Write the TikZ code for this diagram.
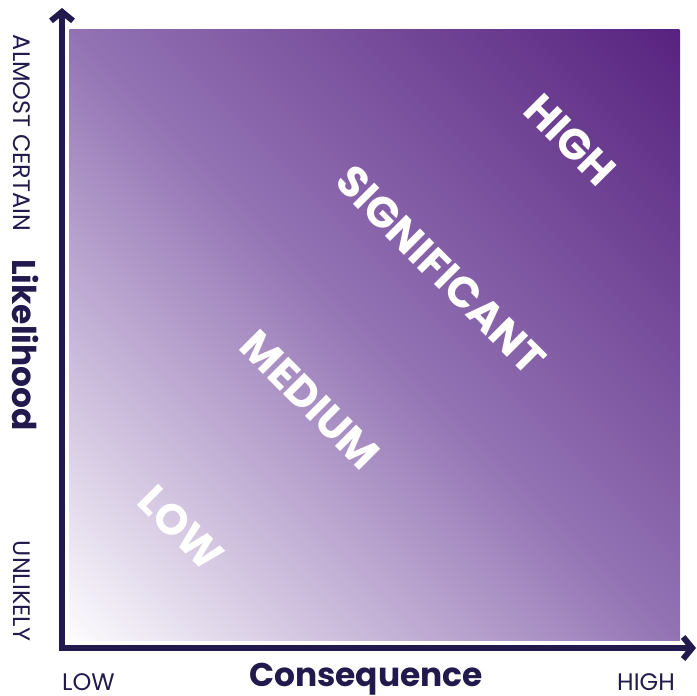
\documentclass[tikz,border=0pt]{standalone}
\usepackage{fontspec}
\setmainfont{Poppins}
\usetikzlibrary{arrows.meta}
\definecolor{axiscol}{HTML}{221A4C}
\definecolor{gradA}{HTML}{FDFCFE}
\definecolor{gradB}{HTML}{9373B4}
\definecolor{gradC}{HTML}{57227F}
\pgfdeclarehorizontalshading{riskshade}{100bp}{color(0bp)=(gradA); color(25bp)=(gradA); color(50bp)=(gradB); color(75bp)=(gradC); color(100bp)=(gradC)}
\tikzset{
  axisline/.style={draw=axiscol, line width=6bp, line join=miter,
    {Straight Barb[length=9bp,width=22bp]}-{Straight Barb[length=9bp,width=22bp]}},
  ticklabel/.style={text=axiscol, inner sep=0pt, font=\fontsize{24}{24}\selectfont},
  axistitle/.style={text=axiscol, inner sep=0pt, font=\bfseries\fontsize{33}{33}\selectfont},
  zonelabel/.style={text=white, inner sep=0pt, rotate=-45, font=\bfseries\fontsize{43}{43}\selectfont}
}
\begin{document}
\begin{tikzpicture}[x=1bp,y=1bp]
\useasboundingbox (0,0) rectangle (697,696);
% gradient field, running from the lower-left corner to the upper-right corner
\begin{scope}
  \clip (69,55) rectangle (680,666);
  \shade[shading=riskshade, transform canvas={rotate around={45:(374.5,360.5)}}]
    (-57.5,-71.5) rectangle (806.5,792.5);
\end{scope}
% axes
\coordinate (vtip) at (62,688);
\coordinate (corner) at (62,48);
\coordinate (htip) at (696,48);
\draw[axisline] (vtip) -- (corner) -- (htip);
% zone labels
\node[zonelabel] (zhigh) at (570,556) {HIGH};
\node[zonelabel] (zsig) at (441,426) {SIGNIFICANT};
\node[zonelabel] (zmed) at (310,296) {MEDIUM};
\node[zonelabel] (zlow) at (181,168) {LOW};
% axis labels
\node[ticklabel, rotate=-90] (almost) at (22,563) {ALMOST CERTAIN};
\node[axistitle, rotate=-90] (likely) at (26,351) {Likelihood};
\node[ticklabel, rotate=-90] (unlikely) at (22,105) {UNLIKELY};
\node[ticklabel, anchor=base west] (xlow) at (62,5) {LOW};
\node[ticklabel, anchor=base east] (xhigh) at (675,5) {HIGH};
\node[axistitle, anchor=base] (conseq) at (366,9) {Consequence};
\end{tikzpicture}
\end{document}
